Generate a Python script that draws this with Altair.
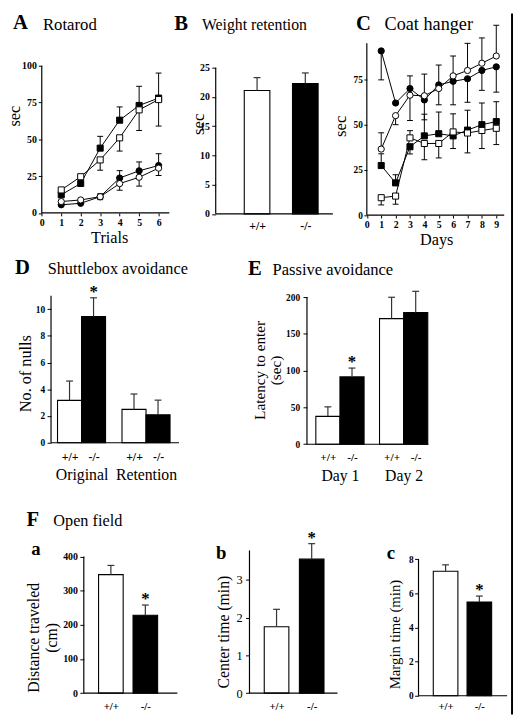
import altair as alt
import pandas as pd

FONT = "Liberation Serif"
M = 8            # page margin
W, H = 514, 712  # one plot area covering the whole picture

# ------------------------------------------------------------------ data
genotypes = ["+/+", "-/-"]

# A  Rotarod (sec) by trial
trials = [1, 2, 3, 4, 5, 6]
rot_ko_sq = [12.3, 20.0, 44.0, 63.0, 73.0, 78.0]
rot_ko_sq_err = [0, 0, 8, 9, 13, 17]
rot_wt_sq = [15.6, 24.6, 36.0, 51.0, 70.0, 77.0]
rot_wt_sq_err = [0, 0, -7, -9, -14, -18]
rot_ko_ci = [5.5, 6.5, 11.0, 23.7, 28.6, 32.2]
rot_ko_ci_err = [0, 0, 2, 5, 6, 8]
rot_wt_ci = [7.7, 8.8, 11.0, 19.9, 24.2, 30.4]
rot_wt_ci_err = [0, 0, -2, -4.5, -6, -5]

# B  Weight retention (sec)
weight_mean = [21.1, 22.3]
weight_err = [2.2, 1.8]

# C  Coat hanger (sec) by day
days = [1, 2, 3, 4, 5, 6, 7, 8, 9]
coat_ko_ci = [90.8, 62.0, 70.0, 63.7, 72.0, 74.0, 75.4, 80.0, 82.0]
coat_ko_ci_err = [-16, 0, 7, -11, 11, -13, -13, -11, -14]
coat_wt_ci = [36.5, 55.0, 66.3, 66.0, 70.0, 77.0, 80.0, 84.0, 88.0]
coat_wt_ci_err = [9, -5, -14, 12, -9, 11, 15, 14, 17]
coat_ko_sq = [27.4, 17.8, 37.8, 43.8, 45.0, 43.8, 47.0, 50.0, 51.7]
coat_ko_sq_err = [6.5, 4.5, -4, 12, 12, -7, 11, 12, 11]
coat_wt_sq = [9.6, 10.5, 42.7, 39.6, 39.6, 46.0, 45.4, 46.8, 48.0]
coat_wt_sq_err = [-4, -4.5, 4, -9, -8, 10, -11, -10, -9]

# D  Shuttlebox avoidance (No. of nulls)
shuttle_groups = ["Original", "Retention"]
shuttle_mean = [3.17, 9.45, 2.5, 2.09]
shuttle_err = [1.45, 1.4, 1.15, 1.1]
shuttle_star = [False, True, False, False]

# E  Passive avoidance (latency, sec)
passive_groups = ["Day 1", "Day 2"]
passive_mean = [37.9, 91.5, 170.7, 178.8]
passive_err = [12.9, 12.0, 29.0, 29.0]
passive_star = [False, True, False, False]

# F  Open field
distance_mean = [347, 228]
distance_err = [27, 30]
distance_star = [False, True]
center_mean = [1.76, 3.55]
center_err = [0.46, 0.41]
center_star = [False, True]
margin_mean = [7.29, 5.49]
margin_err = [0.38, 0.35]
margin_star = [False, True]

# ------------------------------------------------------------------ helpers
def xdom(v0, p0, ppu):
    d0 = v0 - (p0 - M) / ppu
    return [d0, d0 + W / ppu]


def ydom(p0, ptop, vtop):
    ppu = (p0 - ptop) / vtop
    d0 = (p0 - M - H) / ppu
    return [d0, d0 + H / ppu]


def X(field, dom, axis=None):
    return alt.X(field, type="quantitative",
                 scale=alt.Scale(domain=dom, nice=False, zero=False), axis=axis)


def Y(field, dom, axis=None):
    return alt.Y(field, type="quantitative",
                 scale=alt.Scale(domain=dom, nice=False, zero=False), axis=axis)


def y_axis(lay):
    return alt.Axis(
        orient="left", offset=-(lay["ax"] - M), values=lay["yticks"], format="d",
        domain=False, grid=False, tickSize=lay["tick"], tickColor="black", tickWidth=1,
        labelFont=FONT, labelFontSize=lay["lsize"], labelFontWeight=lay["lweight"],
        labelColor="black", labelPadding=lay["pad"], labelFlush=False,
        labelOverlap=False, labelBaseline="middle",
        title=lay["ytitle"], titleFont=FONT, titleFontSize=lay["tsize"],
        titleFontWeight="normal", titleColor="black",
        titleX=lay["tx"] - lay["ax"], titleY=lay["ty"] - M,
        titleBaseline="middle", titleAlign="center",
        titleLineHeight=lay.get("tlh", 16))


def label_expr(values, labels):
    s = "''"
    for v, lab in reversed(list(zip(values, labels))):
        s = f"abs(datum.value - {v:.5f}) < 0.01 ? '{lab}' : " + s
    return s


def cat_axis(y0, values, labels, size, weight, pad):
    return alt.Axis(
        orient="bottom", offset=y0 - M - H, values=values,
        labelExpr=label_expr(values, labels), ticks=False, tickSize=0,
        domain=False, grid=False, labelFont=FONT, labelFontSize=size,
        labelFontWeight=weight, labelColor="black", labelPadding=pad,
        labelBaseline="middle", labelFlush=False, labelOverlap=False, title=None)


def frame_layers(xd, yd, xa, xe, yt, xaxis, yaxis):
    f = pd.DataFrame({"xa": [xa], "xe": [xe], "zero": [0.0], "yt": [yt]})
    xl = alt.Chart(f).mark_rule(color="black", strokeWidth=1.2).encode(
        x=X("xa", xd, xaxis), x2=alt.X2("xe"), y=Y("zero", yd))
    yl = alt.Chart(f).mark_rule(color="black", strokeWidth=1.2).encode(
        x=X("xa", xd), y=Y("zero", yd, yaxis), y2=alt.Y2("yt"))
    return [xl, yl]


def line_panel(xs, series, lay):
    xd = xdom(0, lay["ax"], lay["ppu"])
    yd = ydom(lay["y0"], lay["ytop_page"], lay["ytop_val"])
    cw = 3.0 / lay["ppu"]
    rows = []
    for name, (vals, errs, shape, fill) in series.items():
        for x, v, e in zip(xs, vals, errs):
            rows.append({"s": name, "x": x, "v": v, "e": e, "top": v + e,
                         "cl": x - cw, "cr": x + cw, "shape": shape, "fill": fill})
    df = pd.DataFrame(rows)
    de = df[df["e"] != 0]
    layers = []
    layers.append(alt.Chart(de).mark_rule(color="black", strokeWidth=1).encode(
        x=X("x", xd), y=Y("v", yd), y2=alt.Y2("top")))
    layers.append(alt.Chart(de).mark_rule(color="black", strokeWidth=1).encode(
        x=X("cl", xd), x2=alt.X2("cr"), y=Y("top", yd)))
    layers.append(alt.Chart(df).mark_line(color="black", strokeWidth=1).encode(
        x=X("x", xd), y=Y("v", yd), detail="s:N"))
    for name, (vals, errs, shape, fill) in series.items():
        layers.append(alt.Chart(df[df["s"] == name]).mark_point(
            shape=shape, filled=True, fill=fill, stroke="black", strokeWidth=1,
            size=38 if shape == "square" else 40, opacity=1).encode(
            x=X("x", xd), y=Y("v", yd)))
    xaxis = alt.Axis(
        orient="bottom", offset=lay["y0"] - M - H, values=lay["xticks"], format="d",
        domain=False, grid=False, tickSize=3, tickColor="black", tickWidth=1,
        labelFont=FONT, labelFontSize=10, labelFontWeight="bold", labelColor="black",
        labelPadding=lay["xpad"], labelBaseline="middle", labelFlush=False,
        labelOverlap=False, title=lay["xtitle"], titleFont=FONT, titleFontSize=16.5,
        titleFontWeight="normal", titleColor="black",
        titleX=lay["xtx"] - M, titleY=lay["xty"] - lay["y0"],
        titleBaseline="middle", titleAlign="center")
    layers += frame_layers(xd, yd, 0, lay["xend"], lay["yaxis_top"], xaxis, y_axis(lay))
    return layers


def bar_panel(means, errs, stars, lay, groups=None):
    bw, left = lay["bw"], lay["left"]
    lefts = [0.0]
    for g in lay["gaps"]:
        lefts.append(lefts[-1] + 1 + g / bw)
    xd = xdom(0, left, bw)
    yd = ydom(lay["y0"], lay["ytop_page"], lay["ytop_val"])
    n = len(means)
    cw = 3.5 / bw
    df = pd.DataFrame({
        "genotype": [genotypes[i % 2] for i in range(n)],
        "x1": lefts, "x2": [l + 1 for l in lefts], "xc": [l + 0.5 for l in lefts],
        "v": means, "top": [m + e for m, e in zip(means, errs)],
        "star": stars, "zero": [0.0] * n})
    df["cl"] = df["xc"] - cw
    df["cr"] = df["xc"] + cw
    centers = list(df["xc"])
    geno_axis = cat_axis(lay["y0"], centers, list(df["genotype"]),
                         lay["gsize"], "bold", lay["gpad"])
    layers = [
        alt.Chart(df).mark_bar(stroke="black", strokeWidth=1.1).encode(
            x=X("x1", xd, geno_axis), x2=alt.X2("x2"), y=Y("v", yd), y2=alt.Y2("zero"),
            fill=alt.Fill("genotype:N", scale=alt.Scale(domain=genotypes,
                                                        range=["white", "black"]),
                          legend=None)),
        alt.Chart(df).mark_rule(color="#333333", strokeWidth=1.2).encode(
            x=X("xc", xd), y=Y("v", yd), y2=alt.Y2("top")),
        alt.Chart(df).mark_rule(color="#333333", strokeWidth=1.2).encode(
            x=X("cl", xd), x2=alt.X2("cr"), y=Y("top", yd)),
        alt.Chart(df[df["star"]]).mark_text(
            text="*", font=FONT, fontSize=17, fontWeight="bold", baseline="middle",
            dy=-6, color="black").encode(x=X("xc", xd), y=Y("top", yd)),
    ]
    group_axis = None
    if groups:
        gc = [(centers[2 * i] + centers[2 * i + 1]) / 2 for i in range(len(groups))]
        group_axis = cat_axis(lay["y0"], gc, groups, 16, "normal", lay["grpad"])
    layers += frame_layers(xd, yd, (lay["ax"] - left) / bw, (lay["xend"] - left) / bw,
                           lay["yaxis_top"], group_axis, y_axis(lay))
    return layers


# ------------------------------------------------------------------ layout
LAY_A = dict(ax=42.3, ppu=19.78, xend=6.55, y0=210.5, ytop_page=61, ytop_val=100,
             yaxis_top=100, yticks=[0, 25, 50, 75, 100], lsize=10, lweight="bold",
             tick=3.5, pad=2, ytitle="sec", tsize=16.5, tx=15, ty=111.7,
             xticks=[0, 1, 2, 3, 4, 5, 6], xpad=6.5, xtitle="Trials", xtx=110.8, xty=236)
LAY_C = dict(ax=372.5, ppu=14.61, xend=9.55, y0=212.7, ytop_page=75, ytop_val=75,
             yaxis_top=95, yticks=[0, 25, 50, 75], lsize=9.5, lweight="bold",
             tick=3, pad=1.5, ytitle="sec", tsize=17, tx=346, ty=122,
             xticks=list(range(10)), xpad=7, xtitle="Days", xtx=443, xty=238)
LAY_B = dict(ax=219, xend=338, left=248, bw=26, gaps=[23], y0=211.5, ytop_page=63,
             ytop_val=25, yaxis_top=25, yticks=[0, 5, 10, 15, 20, 25], lsize=10,
             lweight="bold", tick=4, pad=2.5, ytitle="sec", tsize=17, tx=201.7, ty=120,
             gsize=12, gpad=11.5)
LAY_D = dict(ax=51.7, xend=181.7, left=58.3, bw=24.4, gaps=[0, 16.7, 0], y0=444,
             ytop_page=308.3, ytop_val=10, yaxis_top=11, yticks=[0, 2, 4, 6, 8, 10],
             lsize=9.5, lweight="bold", tick=4, pad=2.5, ytitle="No. of nulls",
             tsize=16.5, tx=26, ty=373.3, gsize=12, gpad=14, grpad=32.5)
# multi-line titles: tx is the centre of the first line, later lines stack rightwards
LAY_E = dict(ax=311.7, xend=435, left=320.7, bw=24.5, gaps=[0, 15.7, 0], y0=445.5,
             ytop_page=296, ytop_val=200, yaxis_top=200, yticks=[0, 50, 100, 150, 200],
             lsize=9.5, lweight="bold", tick=4, pad=3.5,
             ytitle=["Latency to enter", "(sec)"], tsize=15.5, tlh=16, tx=263.5, ty=370,
             gsize=11.5, gpad=13.5, grpad=32)
LAY_FA = dict(ax=85, xend=180, left=100, bw=25, gaps=[10], y0=698.3, ytop_page=559.6,
              ytop_val=400, yaxis_top=400, yticks=[0, 100, 200, 300, 400], lsize=10,
              lweight="bold", tick=4, pad=2.5, ytitle=["Distance traveled", "(cm)"],
              tsize=16, tlh=18.5, tx=33.5, ty=641.7, gsize=11, gpad=13.4)
LAY_FB = dict(ax=253.3, xend=342.7, left=268.3, bw=25, gaps=[10.7], y0=698.3,
              ytop_page=583.3, ytop_val=3, yaxis_top=3.78, yticks=[0, 1, 2, 3],
              lsize=12.5, lweight="normal", tick=4, pad=3.5,
              ytitle="Center time (min)", tsize=16, tx=226.7, ty=635.8, gsize=11, gpad=13.4)
LAY_FC = dict(ax=425, xend=515, left=440, bw=25, gaps=[9.3], y0=701, ytop_page=562.3,
              ytop_val=8, yaxis_top=8, yticks=[0, 2, 4, 6, 8], lsize=9.5, lweight="bold",
              tick=4, pad=1.5, ytitle="Margin time (min)", tsize=15, tx=400.8, ty=638.3,
              gsize=11, gpad=10.7)

HEADERS = [  # text, left x, baseline y, font size, weight
    ("A", 13, 24, 21, "bold"), ("Rotarod", 43.5, 25, 17, "normal"),
    ("B", 177, 25, 21, "bold"), ("Weight retention", 205, 25, 16, "normal"),
    ("C", 361.5, 25, 21, "bold"), ("Coat hanger", 390.5, 25, 18.5, "normal"),
    ("D", 15, 272.7, 21, "bold"), ("Shuttlebox avoidance", 48.3, 273, 16.5, "normal"),
    ("E", 251.7, 273.3, 21, "bold"), ("Passive avoidance", 276.7, 273.3, 16.8, "normal"),
    ("F", 26.7, 528.3, 21, "bold"), ("Open field", 54, 529, 16.5, "normal"),
    ("a", 31.7, 558.3, 19, "bold"), ("b", 219.3, 561.7, 19, "bold"),
    ("c", 392.7, 561.7, 19, "bold"),
]

# ------------------------------------------------------------------ build
layers = []
layers += line_panel(trials, {
    "ko_sq": (rot_ko_sq, rot_ko_sq_err, "square", "black"),
    "wt_sq": (rot_wt_sq, rot_wt_sq_err, "square", "white"),
    "ko_ci": (rot_ko_ci, rot_ko_ci_err, "circle", "black"),
    "wt_ci": (rot_wt_ci, rot_wt_ci_err, "circle", "white"),
}, LAY_A)
layers += bar_panel(weight_mean, weight_err, [False, False], LAY_B)
layers += line_panel(days, {
    "ko_ci": (coat_ko_ci, coat_ko_ci_err, "circle", "black"),
    "wt_ci": (coat_wt_ci, coat_wt_ci_err, "circle", "white"),
    "ko_sq": (coat_ko_sq, coat_ko_sq_err, "square", "black"),
    "wt_sq": (coat_wt_sq, coat_wt_sq_err, "square", "white"),
}, LAY_C)
layers += bar_panel(shuttle_mean, shuttle_err, shuttle_star, LAY_D, shuttle_groups)
layers += bar_panel(passive_mean, passive_err, passive_star, LAY_E, passive_groups)
layers += bar_panel(distance_mean, distance_err, distance_star, LAY_FA)
layers += bar_panel(center_mean, center_err, center_star, LAY_FB)
layers += bar_panel(margin_mean, margin_err, margin_star, LAY_FC)

hdr = pd.DataFrame([{"t": t, "px": x - M, "py": y - M, "fs": s, "w": w}
                    for t, x, y, s, w in HEADERS])
for w in ["bold", "normal"]:
    layers.append(alt.Chart(hdr[hdr["w"] == w]).mark_text(
        font=FONT, fontWeight=w, align="left", baseline="alphabetic", color="black").encode(
        x=alt.X("px:Q", scale=None), y=alt.Y("py:Q", scale=None),
        size=alt.Size("fs:Q", scale=None), text="t:N"))

# scanned page edge on the right
layers.append(alt.Chart(pd.DataFrame({"a": [0]})).mark_rule(
    color="black", strokeWidth=2).encode(x=alt.value(W - 2), y=alt.value(0), y2=alt.value(H)))

chart = alt.layer(*layers).resolve_scale(
    x="independent", y="independent").resolve_axis(
    x="independent", y="independent").properties(
    width=W, height=H, padding=0,
    autosize=alt.AutoSizeParams(type="none")).configure_view(strokeWidth=0)

chart.save("out.html", embed_options={"renderer": "svg", "actions": False})
